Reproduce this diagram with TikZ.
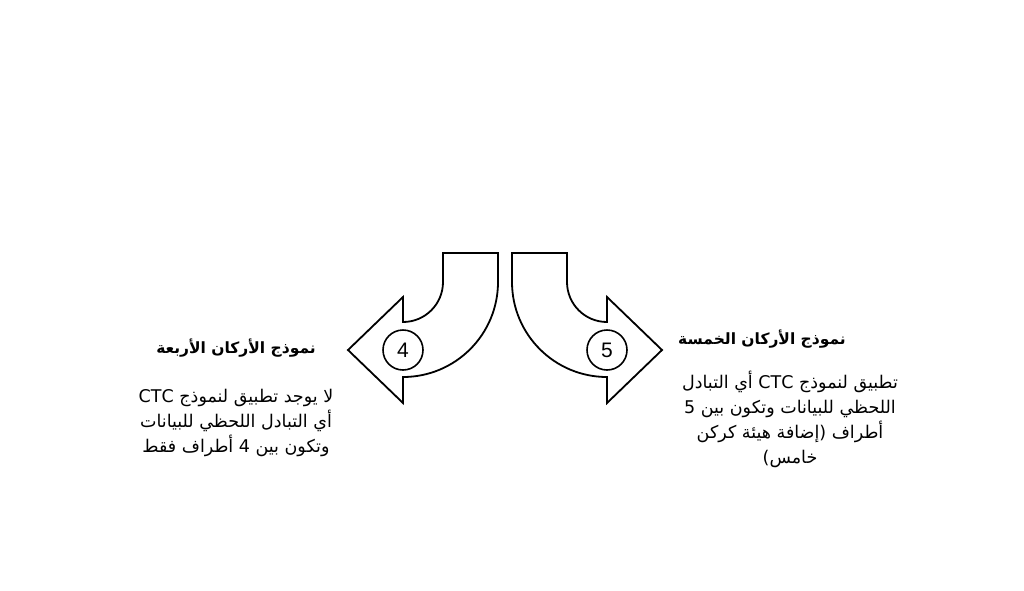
\documentclass[tikz,border=0pt]{standalone}
\usepackage{fontspec}
\setmainfont{Liberation Sans}
\newfontfamily\arabicfont[Script=Arabic]{DejaVu Sans}
\TeXXeTstate=1
\usetikzlibrary{positioning}

\begin{document}
\begin{tikzpicture}[
    x=1pt, y=-1pt,
    node distance=12pt,
    bentarrow/.style={draw, line width=1.8pt, line join=miter, fill=white},
    num/.style={circle, draw, line width=1.6pt, minimum size=40pt, inner sep=0pt, font=\fontsize{21}{24}\selectfont},
    title/.style={font=\arabicfont\bfseries\fontsize{15.5}{18}\selectfont, align=center},
    body/.style={font=\arabicfont\fontsize{17.5}{25}\selectfont, align=center}
]
\useasboundingbox (0,0) rectangle (1024,590);

% left arrow (four)
\draw[bentarrow] (443,253) -- (498,253) -- (498,282)
  arc[start angle=0, end angle=90, radius=95] -- (403,403) -- (348,350)
  -- (403,297) -- (403,322) arc[start angle=90, end angle=0, radius=40] -- cycle;
% right arrow (five)
\draw[bentarrow] (567,253) -- (512,253) -- (512,282)
  arc[start angle=180, end angle=90, radius=95] -- (607,403) -- (662,350)
  -- (607,297) -- (607,322) arc[start angle=90, end angle=180, radius=40] -- cycle;

\node[num] (four) at (403,350) {4};
\node[num] (five) at (607,350) {5};

\node[title] (fourtitle) at (236,348) {\beginR نموذج الأركان الأربعة\endR};
\node[body, below=25pt of fourtitle] (fourbody)
  {\beginR لا يوجد تطبيق لنموذج \beginL CTC\endL{}\endR\\
   \beginR أي التبادل اللحظي للبيانات\endR\\
   \beginR وتكون بين 4 أطراف فقط\endR};

\node[title] (fivetitle) at (762,339) {\beginR نموذج الأركان الخمسة\endR};
\node[body, below=16pt of fivetitle, xshift=28pt] (fivebody)
  {\beginR تطبيق لنموذج \beginL CTC\endL{} أي التبادل\endR\\
   \beginR اللحظي للبيانات وتكون بين 5\endR\\
   \beginR أطراف (إضافة هيئة كركن\endR\\
   \beginR خامس)\endR};

\end{tikzpicture}
\end{document}
